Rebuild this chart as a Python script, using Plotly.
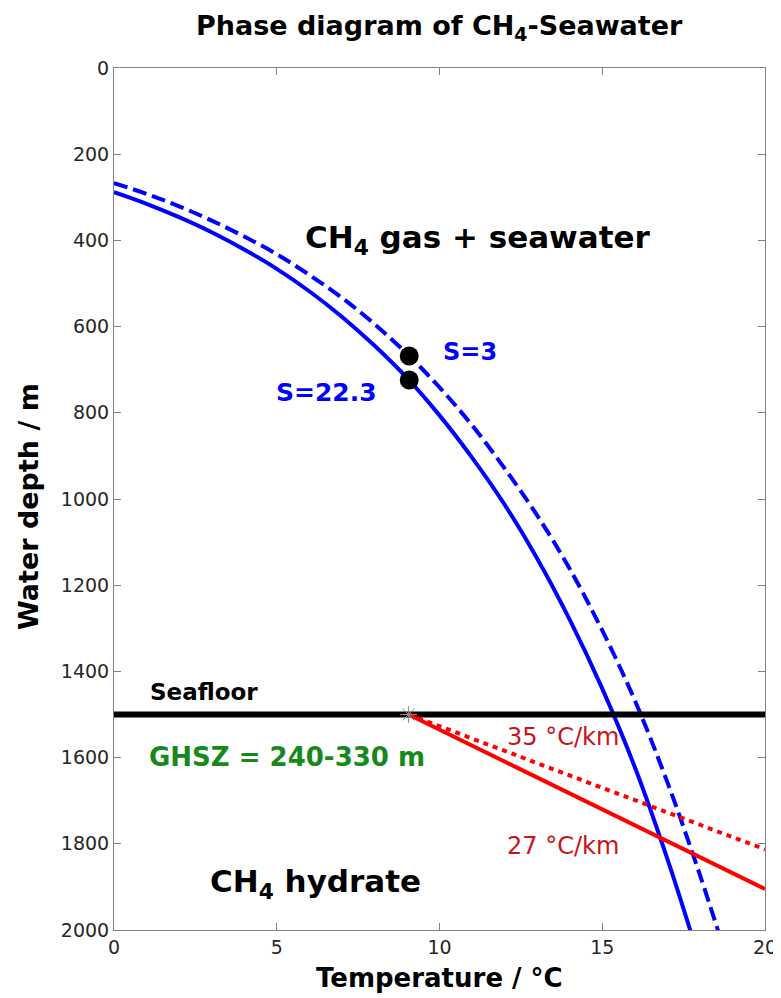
import plotly.graph_objects as go

# ---- data ----
temp_s223 = [0, 1, 2, 3, 4, 5, 6, 7, 8, 9, 10, 11, 12, 13, 14, 15, 16, 17, 17.75]
depth_s223 = [288, 315, 346, 381, 421, 466, 518, 577, 644, 719, 806, 904, 1013, 1138, 1280, 1440, 1622, 1835, 2012]

temp_s3 = [0, 1, 2, 3, 4, 5, 6, 7, 8, 9, 10, 11, 12, 13, 14, 15, 16, 17, 18, 18.6]
depth_s3 = [267, 292, 321, 354, 391, 432, 480, 533, 594, 663, 741, 829, 929, 1038, 1162, 1305, 1467, 1657, 1872, 2012]

seafloor_temp = [0, 20]
seafloor_depth = [1500, 1500]

grad27_temp = [9.05, 20]
grad27_depth = [1500, 1905]
grad35_temp = [9.05, 20]
grad35_depth = [1500, 1813]

dot_temp = [9.07, 9.07]
dot_depth = [668, 724]

seafloor_point_temp = [9.05]
seafloor_point_depth = [1500]

x_ticks = [0, 5, 10, 15, 20]
y_ticks = list(range(0, 2001, 200))

FONT = "DejaVu Sans"
BLUE = "#0000ff"
RED = "#ff0000"

fig = go.Figure()
fig.add_trace(go.Scatter(x=temp_s223, y=depth_s223, mode="lines",
                         line=dict(color=BLUE, width=4, shape="spline", smoothing=1.0)))
fig.add_trace(go.Scatter(x=temp_s3, y=depth_s3, mode="lines",
                         line=dict(color=BLUE, width=4, dash="14px,6px", shape="spline", smoothing=1.0)))
fig.add_trace(go.Scatter(x=seafloor_temp, y=seafloor_depth, mode="lines",
                         line=dict(color="black", width=6)))
fig.add_trace(go.Scatter(x=grad35_temp, y=grad35_depth, mode="lines",
                         line=dict(color=RED, width=4, dash="5px,5px")))
fig.add_trace(go.Scatter(x=grad27_temp, y=grad27_depth, mode="lines",
                         line=dict(color=RED, width=4)))
fig.add_trace(go.Scatter(x=dot_temp, y=dot_depth, mode="markers",
                         marker=dict(color="black", size=19)))
fig.add_trace(go.Scatter(x=seafloor_point_temp, y=seafloor_point_depth, mode="markers",
                         marker=dict(symbol="asterisk-open", size=14, color="#8a8a8a",
                                     line=dict(color="#8a8a8a", width=1))))

def ann(text, x, y, size, color="black", bold=True, **kw):
    t = f"<b>{text}</b>" if bold else text
    d = dict(text=t, x=x, y=y, xref="x", yref="y", showarrow=False,
             font=dict(family=FONT, size=size, color=color),
             xanchor="center", yanchor="middle")
    d.update(kw)
    fig.add_annotation(**d)

ann("CH<sub>4</sub> gas + seawater", 11.18, 397, 31)
ann("CH<sub>4</sub> hydrate", 6.2, 1893, 31)
ann("S=3", 10.94, 659, 24, color=BLUE)
ann("S=22.3", 6.54, 752, 25, color=BLUE)
ann("Seafloor", 2.76, 1448, 23)
ann("GHSZ = 240-330 m", 5.31, 1599, 26, color="#17891c")
ann("35 °C/km", 13.8, 1552, 24, color="#c8141c", bold=False)
ann("27 °C/km", 13.8, 1805, 24, color="#c8141c", bold=False)

# title and axis titles
fig.add_annotation(text="<b>Phase diagram of CH<sub>4</sub>-Seawater</b>",
                   x=0.5, y=1 + (68 - 27) / 862, xref="paper", yref="paper",
                   showarrow=False, xanchor="center", yanchor="middle",
                   font=dict(family=FONT, size=27, color="black"))
fig.add_annotation(text="<b>Temperature / °C</b>",
                   x=0.5, y=-(978 - 930) / 862, xref="paper", yref="paper",
                   showarrow=False, xanchor="center", yanchor="middle",
                   font=dict(family=FONT, size=26, color="black"))
fig.add_annotation(text="<b>Water depth / m</b>", textangle=-90,
                   x=(28 - 114) / 651, y=1 - (507 - 68) / 862, xref="paper", yref="paper",
                   showarrow=False, xanchor="center", yanchor="middle",
                   font=dict(family=FONT, size=27, color="black"))

axis_common = dict(showgrid=False, zeroline=False, showline=True, linecolor="#808080",
                   linewidth=1, mirror="allticks", ticks="inside", ticklen=7,
                   tickcolor="#808080", tickwidth=1, automargin=False,
                   tickfont=dict(family=FONT, size=19, color="#262626"))

# the page places the figure 8px in from the window's top-left corner
fig.update_layout(
    width=781, height=998,
    margin=dict(l=106, r=24, t=60, b=76),
    paper_bgcolor="white", plot_bgcolor="white",
    showlegend=False,
    xaxis=dict(range=[0, 20], tickvals=x_ticks, **axis_common),
    yaxis=dict(range=[2000, 0], tickvals=y_ticks, **axis_common),
)

fig.write_html("out.html")
